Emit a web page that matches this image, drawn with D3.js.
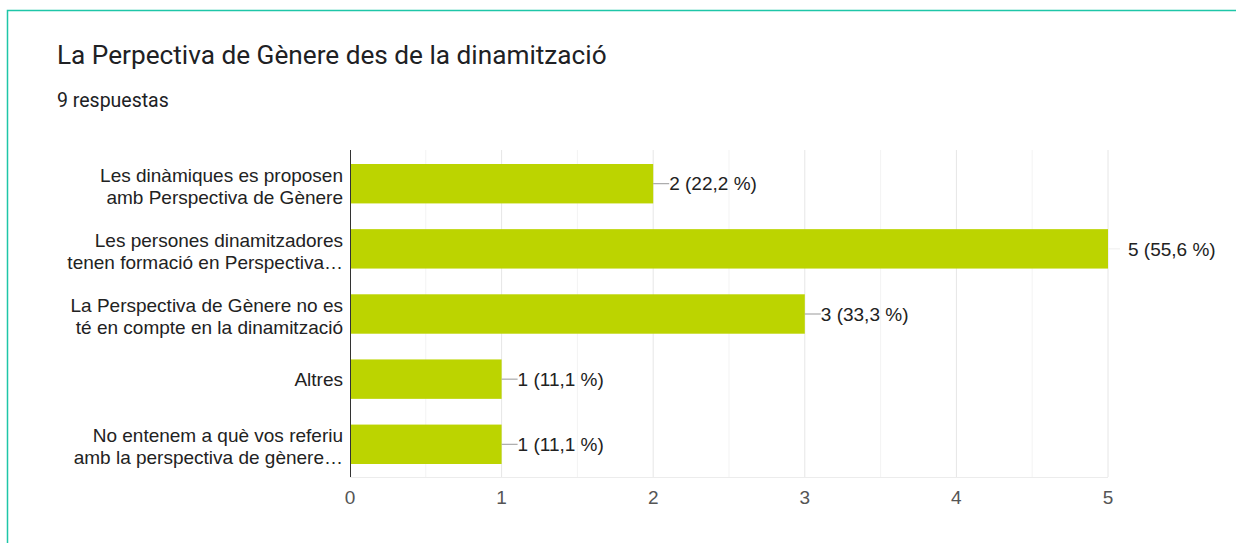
<!DOCTYPE html>
<html>
<head>
<meta charset="utf-8">
<script src="https://cdn.jsdelivr.net/npm/d3@7"></script>
<style>
  body { margin: 0; background: #fff; }
</style>
</head>
<body>
<svg></svg>
<script>
//data
const categories = [
    ["Les dinàmiques es proposen", "amb Perspectiva de Gènere"],
    ["Les persones dinamitzadores", "tenen formació en Perspectiva…"],
    ["La Perspectiva de Gènere no es", "té en compte en la dinamització"],
    ["Altres"],
    ["No entenem a què vos referiu", "amb la perspectiva de gènere…"]
];
const counts = [2, 5, 3, 1, 1];
const percents = ["22,2 %", "55,6 %", "33,3 %", "11,1 %", "11,1 %"];
const xTicks = [0, 1, 2, 3, 4, 5];
const title = "La Perpectiva de Gènere des de la dinamització";
const subtitle = "9 respuestas";

//setting
const Width = 1236;
const Height = 543;
const font = "Liberation Sans, Arial, sans-serif";
const svg = d3.select("svg").attr("width", Width).attr("height", Height)

// card border
svg.append("rect")
.attr("x", 7.5).attr("y", 10.5)
.attr("width", Width).attr("height", Height)
.attr("fill", "#fff")
.attr("stroke", "#1ec6a8")
.attr("stroke-width", 1.5)

svg.append("text")
.text(title)
.attr("x", 57).attr("y", 64)
.style("font-family", "Roboto")
.style("font-size", "26.2px")
.attr("fill", "#202124")

svg.append("text")
.text(subtitle)
.attr("x", 57).attr("y", 107)
.style("font-family", "Roboto")
.style("font-size", "19.5px")
.attr("fill", "#202124")

let xScale = d3.scaleLinear().domain([0, 5]).range([350, 1108]);
let yScale = d3.scaleBand().domain(d3.range(counts.length)).range([150, 478]).paddingInner(0.395).paddingOuter(0.215);
const plotBottom = 477;

// gridlines
svg.append("g")
.selectAll("line")
.data(d3.range(0.5, 5.01, 0.5))
.join("line")
.attr("x1", d => xScale(d)).attr("x2", d => xScale(d))
.attr("y1", 150).attr("y2", plotBottom)
.attr("stroke", d => d % 1 === 0 ? "#e6e6e6" : "#f3f3f3")
.attr("stroke-width", 1)

svg.append("line")
.attr("x1", xScale(0)).attr("x2", xScale(5))
.attr("y1", plotBottom + 0.5).attr("y2", plotBottom + 0.5)
.attr("stroke", "#ececec")

// bars
svg.append("g")
.selectAll("rect")
.data(counts)
.join("rect")
.attr("x", xScale(0))
.attr("y", (d, i) => yScale(i))
.attr("width", d => xScale(d) - xScale(0))
.attr("height", yScale.bandwidth())
.attr("fill", "#bcd400")

// axis line
svg.append("line")
.attr("x1", xScale(0) + 0.5).attr("x2", xScale(0) + 0.5)
.attr("y1", 150).attr("y2", plotBottom)
.attr("stroke", "#333")

// value labels
const lab = svg.append("g").selectAll("g")
.data(counts)
.join("g")
.attr("transform", (d, i) => `translate(${xScale(d)}, ${yScale(i) + yScale.bandwidth() / 2})`)

lab.append("line")
.attr("x1", 0).attr("x2", d => d === 5 ? 12 : 16)
.attr("y1", 0).attr("y2", 0)
.attr("stroke", d => d === 5 ? "#eee" : "#999")

lab.append("text")
.text((d, i) => d + " (" + percents[i] + ")")
.attr("x", d => d === 5 ? 20 : 16)
.attr("dy", "0.35em")
.style("font-family", font)
.style("font-size", "19px")
.attr("fill", "#222")

// category labels
const cat = svg.append("g").selectAll("text")
.data(categories)
.join("text")
.attr("x", 343)
.attr("y", (d, i) => yScale(i) + yScale.bandwidth() / 2)
.attr("text-anchor", "end")
.style("font-family", font)
.style("font-size", "19px")
.attr("fill", "#222")

cat.selectAll("tspan")
.data(d => d.map((t, j) => ({t: t, n: d.length, j: j})))
.join("tspan")
.attr("x", 343)
.attr("dy", (d) => d.j === 0 ? (d.n === 1 ? "0.35em" : "-2px") : "22px")
.text(d => d.t)

// x ticks
svg.append("g")
.selectAll("text")
.data(xTicks)
.join("text")
.text(d => d)
.attr("x", d => xScale(d))
.attr("y", 504)
.attr("text-anchor", "middle")
.style("font-family", font)
.style("font-size", "19px")
.attr("fill", "#555")
</script>
</body>
</html>
